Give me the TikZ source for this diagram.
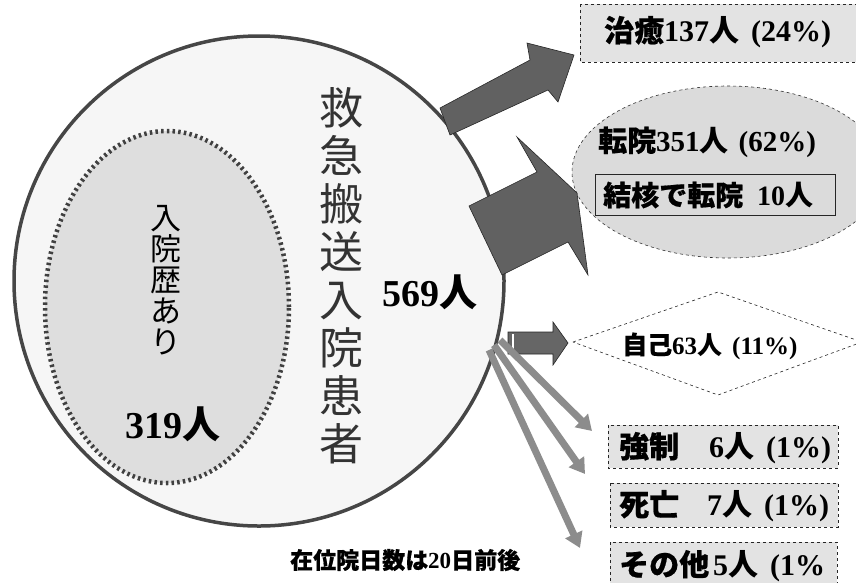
\documentclass[tikz,border=0pt]{standalone}
\usepackage{fontspec}
\setmainfont{Liberation Serif}
\newfontfamily\cjk{Noto Sans CJK JP}
\newfontfamily\cjkb[FakeBold=0.6]{Noto Sans CJK JP}
\usetikzlibrary{shapes.geometric,arrows.meta}
\newcommand{\fsz}[1]{\fontsize{#1}{#1}\selectfont}
\begin{document}
\begin{tikzpicture}[x=1pt,y=-1pt,
  bigcirc/.style={circle, draw=gray!55!black, line width=3.5pt, fill=gray!7, inner sep=0pt},
  innerell/.style={ellipse, draw=gray!50!black, line width=4.5pt, dash pattern=on 2.5pt off 3.2pt, fill=gray!26, inner sep=0pt},
  dashbox/.style={draw=black!85, dashed, line width=0.6pt, fill=gray!22},
  blockarrow/.style={fill=black!62, draw=black!85, line width=0.6pt},
  fanarrow/.style={line width=7pt, draw=black!45, -{Triangle[length=15pt,width=18pt]}},
  txt/.style={inner sep=0pt, text=black}
]
\clip (0,0) rectangle (856,582);
\fill[white] (0,0) rectangle (856,582);

% main circle and inner ellipse
\node[bigcirc, minimum size=490pt] (all) at (259,281) {};
\node[innerell, minimum width=244pt, minimum height=352pt] (hist) at (167,307) {};

% texts in the circle
\node[txt, align=center, font=\cjk\fontsize{31}{31}\selectfont] (histlabel) at (166,280) {入\\院\\歴\\あ\\り};
\node[txt, font=\fsz{38}\bfseries] (n319) at (173,424) {319{\cjk 人}};
\node[txt, align=center, text=black!80, font=\cjk\fontsize{44}{48}\selectfont] (title) at (341,276) {救\\急\\搬\\送\\入\\院\\患\\者};
\node[txt, font=\fsz{38}\bfseries] (n569) at (430,292) {569{\cjk 人}};

% recovered box
\draw[dashbox] (580,4) rectangle (880,62);
\node[txt, anchor=west, font=\fsz{30}\bfseries] (cure) at (604,32) {{\cjkb 治癒}137{\cjk 人}\hspace{12pt}(24\%)};

% transfer ellipse
\node[ellipse, draw=black!80, dashed, line width=0.6pt, fill=gray!28, minimum width=312pt, minimum height=172pt] (trans) at (728,172) {};
\node[txt, anchor=west, font=\fsz{29}\bfseries] (translabel) at (598,142) {{\cjkb 転院}351{\cjk 人}\hspace{10pt}(62\%)};
\draw[draw=black!85, line width=0.8pt, fill=gray!28] (595,174) rectangle (835,215);
\node[txt, anchor=west, font=\fsz{28}\bfseries] (tb) at (603,195) {{\cjkb 結核で転院}\hspace{14pt}10{\cjk 人}};

% self discharge diamond
\draw[draw=black!85, dashed, line width=0.6pt, fill=white] (573,342) -- (718,292) -- (862,342) -- (718,395) -- cycle;
\node[txt, anchor=west, font=\fsz{25}\bfseries] (self) at (622,346) {{\cjkb 自己}63{\cjk 人}\hspace{10pt}(11\%)};

% small boxes
\draw[dashbox] (608,425) rectangle (838,468);
\node[txt, anchor=west, font=\fsz{30}\bfseries] (forced) at (619,448) {{\cjkb 強制}\hspace{30pt}6{\cjk 人}\hspace{12pt}(1\%)};
\draw[dashbox] (610,483) rectangle (838,527);
\node[txt, anchor=west, font=\fsz{30}\bfseries] (death) at (619,506) {{\cjkb 死亡}\hspace{28pt}7{\cjk 人}\hspace{12pt}(1\%)};
\draw[dashbox] (610,542) rectangle (837,600);
\node[txt, anchor=west, font=\fsz{30}\bfseries] (other) at (619,566) {{\cjkb その他}\hspace{4pt}5{\cjk 人}\hspace{12pt}(1\%};

% arrows
\draw[blockarrow] (450,135) -- (440,108) -- (530,60) -- (527,43) -- (574,55) -- (558,102) -- (548,90) -- cycle;
\draw[blockarrow] (469,206) -- (537,172) -- (517,137) -- (577,193) -- (588,275) -- (568,242) -- (502,275) -- cycle;
\draw[blockarrow, fill=black!60] (508,332) -- (553,332) -- (553,322) -- (568,343) -- (553,365) -- (553,354) -- (508,354) -- cycle;
\draw[white, line width=1.3pt] (513,334) -- (513,352);

\coordinate (f1) at (592,431);
\coordinate (f2) at (585,474);
\coordinate (f3) at (580,548);
\draw[fanarrow] (500,340) -- (f1);
\draw[fanarrow] (494,345) -- (f2);
\draw[fanarrow] (489,350) -- (f3);

% footnote
\node[txt, anchor=west, font=\fsz{23}\bfseries] (note) at (290,560) {{\cjkb 在位院日数は}20{\cjkb 日前後}};
\end{tikzpicture}
\end{document}
